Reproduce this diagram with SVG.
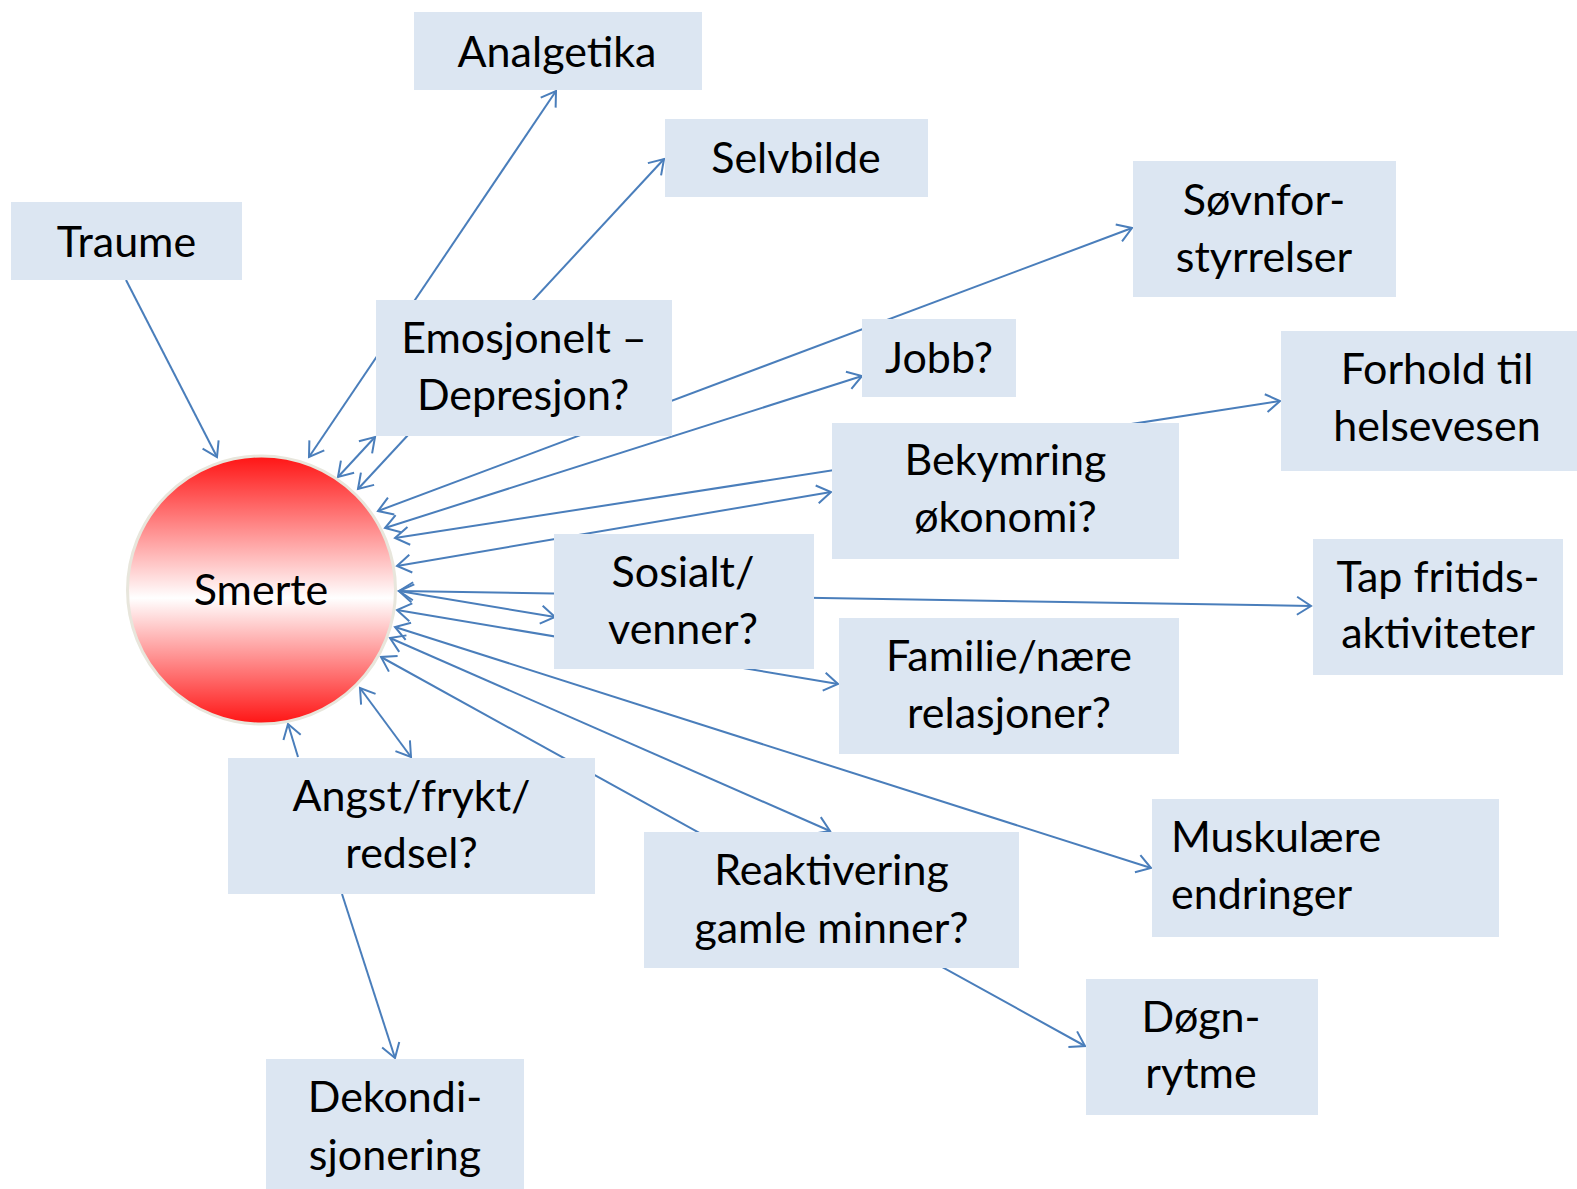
<svg xmlns="http://www.w3.org/2000/svg" width="1577" height="1189" viewBox="0 0 1577 1189">
<defs>
<style>
.box{fill:#dce6f2;}
.t{font-family:Lato,"Open Sans","Liberation Sans",sans-serif;font-size:43px;fill:#000;text-anchor:middle;}
.l{text-anchor:start;}
.c{fill:none;stroke:#4a7ebb;stroke-width:2;}
.d{marker-start:url(#ah);marker-end:url(#ah);}
.e{marker-end:url(#ah);}
</style>
<marker id="ah" viewBox="-2 -2 19 22" markerWidth="19" markerHeight="22" refX="14" refY="9" orient="auto-start-reverse" markerUnits="userSpaceOnUse" overflow="visible">
<path d="M0,0 L14,9 L0,18" fill="none" stroke="#4a7ebb" stroke-width="2"/>
</marker>
<linearGradient id="rg" x1="0" y1="0" x2="0" y2="1">
<stop offset="0" stop-color="#ff1414"/>
<stop offset="0.53" stop-color="#ffffff"/>
<stop offset="1" stop-color="#ff1414"/>
</linearGradient>
</defs>
<rect width="1577" height="1189" fill="#fff"/>
<g id="connectors">
<line class="c e" x1="126" y1="280" x2="217" y2="457"/>
<line class="c d" x1="309" y1="457" x2="556" y2="91"/>
<line class="c d" x1="358" y1="489" x2="664" y2="159"/>
<line class="c d" x1="338" y1="477" x2="375" y2="437"/>
<line class="c d" x1="378" y1="511" x2="1132" y2="228"/>
<line class="c d" x1="385" y1="528" x2="862" y2="376"/>
<line class="c d" x1="395" y1="538" x2="1280" y2="401"/>
<line class="c d" x1="397" y1="566" x2="831" y2="492"/>
<line class="c d" x1="399" y1="591" x2="1311" y2="606"/>
<line class="c d" x1="399" y1="591" x2="555" y2="617"/>
<line class="c d" x1="397" y1="610" x2="838" y2="684"/>
<line class="c d" x1="395" y1="627" x2="1151" y2="868"/>
<line class="c d" x1="390" y1="638" x2="830" y2="831"/>
<line class="c d" x1="381" y1="657" x2="1085" y2="1046"/>
<line class="c d" x1="360" y1="688" x2="411" y2="757"/>
<line class="c e" x1="298" y1="757" x2="288" y2="724"/>
<line class="c e" x1="342" y1="894" x2="395" y2="1058"/>
</g>
<g id="smerte">
<circle cx="261.5" cy="590" r="134" fill="url(#rg)" stroke="#e8e6dc" stroke-width="3"/>
<text class="t" x="261" y="605">Smerte</text>
</g>
<g id="traume"><rect class="box" x="11" y="202" width="231" height="78"/><text class="t" x="126.5" y="257">Traume</text></g>
<g id="analgetika"><rect class="box" x="414" y="12" width="288" height="78"/><text class="t" x="557" y="67">Analgetika</text></g>
<g id="selvbilde"><rect class="box" x="665" y="119" width="263" height="78"/><text class="t" x="796" y="173">Selvbilde</text></g>
<g id="emosjonelt"><rect class="box" x="376" y="300" width="296" height="136"/><text class="t" x="524" y="353">Emosjonelt –</text><text class="t" x="523" y="410">Depresjon?</text></g>
<g id="sovnforstyrrelser"><rect class="box" x="1133" y="161" width="263" height="136"/><text class="t" x="1264" y="215">Søvnfor-</text><text class="t" x="1264" y="272">styrrelser</text></g>
<g id="jobb"><rect class="box" x="862" y="319" width="154" height="78"/><text class="t" x="939" y="373">Jobb?</text></g>
<g id="forhold"><rect class="box" x="1281" y="331" width="312" height="140"/><text class="t" x="1437" y="384">Forhold til</text><text class="t" x="1437" y="441">helsevesen</text></g>
<g id="bekymring"><rect class="box" x="832" y="423" width="347" height="136"/><text class="t" x="1005.5" y="475">Bekymring</text><text class="t" x="1005.5" y="532">økonomi?</text></g>
<g id="sosialt"><rect class="box" x="554" y="534" width="260" height="135"/><text class="t" x="683" y="587">Sosialt/</text><text class="t" x="683" y="644">venner?</text></g>
<g id="tapfritid"><rect class="box" x="1313" y="539" width="250" height="136"/><text class="t" x="1438" y="592">Tap fritids-</text><text class="t" x="1438" y="648">aktiviteter</text></g>
<g id="familie"><rect class="box" x="839" y="618" width="340" height="136"/><text class="t" x="1009" y="671">Familie/nære</text><text class="t" x="1009" y="728">relasjoner?</text></g>
<g id="angst"><rect class="box" x="228" y="758" width="367" height="136"/><text class="t" x="411.5" y="811">Angst/frykt/</text><text class="t" x="411.5" y="868">redsel?</text></g>
<g id="reaktivering"><rect class="box" x="644" y="832" width="375" height="136"/><text class="t" x="831.5" y="885">Reaktivering</text><text class="t" x="831.5" y="943">gamle minner?</text></g>
<g id="muskulaere"><rect class="box" x="1152" y="799" width="347" height="138"/><text class="t l" x="1171" y="852">Muskulære</text><text class="t l" x="1171" y="909">endringer</text></g>
<g id="dogn"><rect class="box" x="1086" y="979" width="232" height="136"/><text class="t" x="1201" y="1032">Døgn-</text><text class="t" x="1201" y="1088">rytme</text></g>
<g id="dekondisjonering"><rect class="box" x="266" y="1059" width="258" height="130"/><text class="t" x="395" y="1112">Dekondi-</text><text class="t" x="395" y="1170">sjonering</text></g>
</svg>
